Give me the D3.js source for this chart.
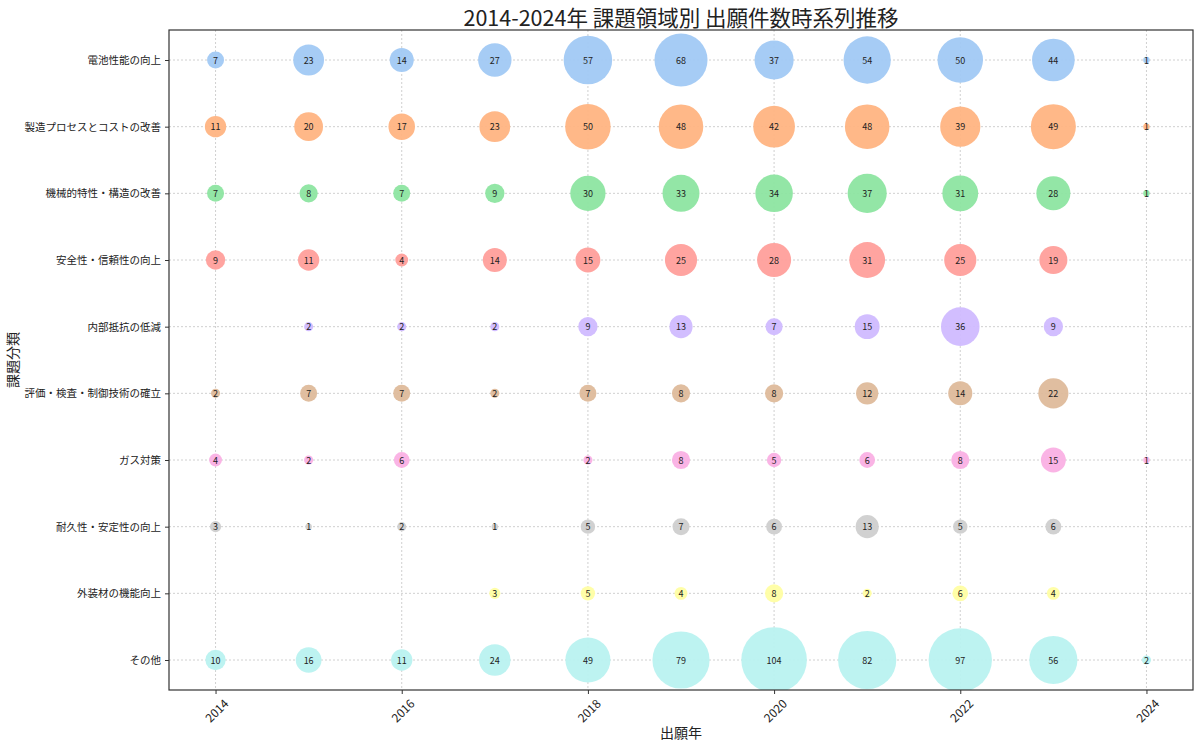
<!DOCTYPE html>
<html>
<meta charset="utf-8">
<head>
  <style>
    body { margin: 0; background: #fff; }
    svg text { font-family: "Noto Sans CJK JP", "Noto Sans", sans-serif; fill: #222; }
    .grid line { stroke: #c4c4c4; stroke-width: 0.8; stroke-dasharray: 2,2; }
    .axis path.domain { display: none; }
    .axis line { stroke: #333; }
  </style>
  <script src="https://d3js.org/d3.v7.min.js"></script>
</head>
<body>
<svg id="chart" width="1200" height="748"></svg>
<script>
  // data (null = no bubble)
  var years = [2014, 2015, 2016, 2017, 2018, 2019, 2020, 2021, 2022, 2023, 2024];
  var xTicks = [2014, 2016, 2018, 2020, 2022, 2024];
  var categories = [
    "電池性能の向上",
    "製造プロセスとコストの改善",
    "機械的特性・構造の改善",
    "安全性・信頼性の向上",
    "内部抵抗の低減",
    "評価・検査・制御技術の確立",
    "ガス対策",
    "耐久性・安定性の向上",
    "外装材の機能向上",
    "その他"
  ];
  var battery       = [7, 23, 14, 27, 57, 68, 37, 54, 50, 44, 1];
  var manufacturing = [11, 20, 17, 23, 50, 48, 42, 48, 39, 49, 1];
  var mechanical    = [7, 8, 7, 9, 30, 33, 34, 37, 31, 28, 1];
  var safety        = [9, 11, 4, 14, 15, 25, 28, 31, 25, 19, null];
  var resistance    = [null, 2, 2, 2, 9, 13, 7, 15, 36, 9, null];
  var evaluation    = [2, 7, 7, 2, 7, 8, 8, 12, 14, 22, null];
  var gas           = [4, 2, 6, null, 2, 8, 5, 6, 8, 15, 1];
  var durability    = [3, 1, 2, 1, 5, 7, 6, 13, 5, 6, null];
  var exterior      = [null, null, null, 3, 5, 4, 8, 2, 6, 4, null];
  var other         = [10, 16, 11, 24, 49, 79, 104, 82, 97, 56, 2];
  var series = [battery, manufacturing, mechanical, safety, resistance,
                evaluation, gas, durability, exterior, other];
  var colors = ["#a1c9f4", "#ffb482", "#8de5a1", "#ff9f9b", "#d0bbff",
                "#debb9b", "#fab0e4", "#cfcfcf", "#fffea3", "#b9f2f0"];

  var plotL = 169, plotR = 1193, plotT = 30, plotB = 690;
  var svg = d3.select('#chart');

  var x = d3.scaleLinear().domain([2013.5, 2024.5]).range([plotL, plotR]);
  var y = d3.scaleLinear().domain([-0.45, categories.length - 0.55]).range([plotT, plotB]);
  var r = d3.scaleSqrt().domain([0, 104]).range([0, 32.8]);

  var points = [];
  series.forEach(function(vals, ci) {
    vals.forEach(function(v, yi) {
      if (v != null) points.push({cat: ci, year: years[yi], value: v});
    });
  });

  svg.append('clipPath').attr('id', 'plot-clip')
    .append('rect').attr('x', plotL).attr('y', plotT)
    .attr('width', plotR - plotL).attr('height', plotB - plotT);

  // grid
  var grid = svg.append('g').attr('class', 'grid');
  grid.selectAll('line.v').data(xTicks).enter().append('line')
    .attr('class', 'v')
    .attr('x1', function(d) { return x(d); }).attr('x2', function(d) { return x(d); })
    .attr('y1', plotT).attr('y2', plotB);
  grid.selectAll('line.h').data(d3.range(categories.length)).enter().append('line')
    .attr('class', 'h')
    .attr('y1', function(d) { return y(d); }).attr('y2', function(d) { return y(d); })
    .attr('x1', plotL).attr('x2', plotR);

  // bubbles
  var plot = svg.append('g').attr('clip-path', 'url(#plot-clip)');
  plot.selectAll('circle').data(points).enter().append('circle')
    .attr('cx', function(d) { return x(d.year); })
    .attr('cy', function(d) { return y(d.cat); })
    .attr('r', function(d) { return r(d.value); })
    .attr('fill', function(d) { return colors[d.cat]; })
    .attr('fill-opacity', 0.95);

  plot.selectAll('text').data(points).enter().append('text')
    .attr('x', function(d) { return x(d.year); })
    .attr('y', function(d) { return y(d.cat); })
    .attr('text-anchor', 'middle')
    .attr('dominant-baseline', 'central')
    .attr('font-size', 9)
    .text(function(d) { return d.value; });

  // axes
  var xAxis = svg.append('g').attr('class', 'axis')
    .attr('transform', 'translate(0,' + plotB + ')')
    .call(d3.axisBottom(x).tickValues(xTicks).tickFormat(d3.format('d')).tickSize(4));
  xAxis.selectAll('text')
    .attr('font-size', 12)
    .attr('text-anchor', 'middle')
    .attr('dominant-baseline', 'central')
    .attr('dy', null)
    .attr('y', null)
    .attr('transform', 'translate(0,20) rotate(-45)');

  var yAxis = svg.append('g').attr('class', 'axis')
    .attr('transform', 'translate(' + plotL + ',0)')
    .call(d3.axisLeft(y).tickValues(d3.range(categories.length))
      .tickFormat(function(i) { return categories[i]; }).tickSize(4).tickPadding(4));
  yAxis.selectAll('text').attr('font-size', 10.5);

  // frame
  svg.append('rect')
    .attr('x', plotL).attr('y', plotT)
    .attr('width', plotR - plotL).attr('height', plotB - plotT)
    .attr('fill', 'none').attr('stroke', '#333').attr('stroke-width', 1.2);

  // titles
  svg.append('text')
    .attr('x', (plotL + plotR) / 2).attr('y', 26)
    .attr('text-anchor', 'middle').attr('font-size', 21.5)
    .text('2014-2024年 課題領域別 出願件数時系列推移');
  svg.append('text')
    .attr('x', (plotL + plotR) / 2).attr('y', 738)
    .attr('text-anchor', 'middle').attr('font-size', 14)
    .text('出願年');
  svg.append('text')
    .attr('transform', 'translate(18,' + (plotT + plotB) / 2 + ') rotate(-90)')
    .attr('text-anchor', 'middle').attr('font-size', 14)
    .text('課題分類');
</script>
</body>
</html>
